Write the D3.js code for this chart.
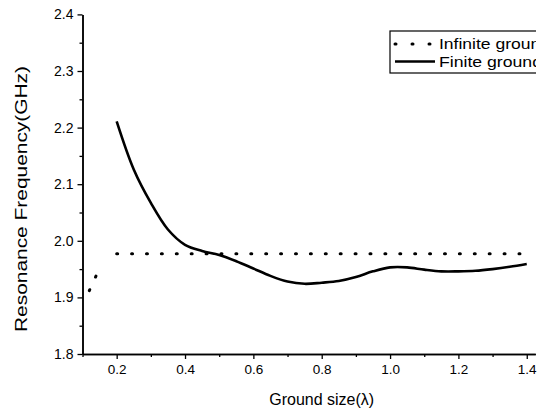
<!DOCTYPE html>
<html>
<head>
<meta charset="utf-8">
<script src="https://cdn.jsdelivr.net/npm/d3@7"></script>
<style>
  body { margin: 0; background: #fff; }
  text { font-family: "Liberation Sans", Arial, sans-serif; fill: #000; }
</style>
</head>
<body>
<script>
// finite ground curve
var finiteX = [0.2, 0.25, 0.3, 0.35, 0.4, 0.45, 0.5, 0.55, 0.6, 0.65, 0.7, 0.75, 0.8,
               0.85, 0.9, 0.95, 1.0, 1.05, 1.1, 1.15, 1.2, 1.25, 1.3, 1.35, 1.4];
var finiteY = [2.211, 2.126, 2.067, 2.020, 1.993, 1.982, 1.975, 1.964, 1.951, 1.938, 1.928, 1.924, 1.926,
               1.929, 1.936, 1.946, 1.953, 1.953, 1.949, 1.946, 1.946, 1.947, 1.950, 1.954, 1.959];

// infinite ground (null = gap)
var infiniteX = [0.12, 0.145, 0.17, 0.2, 0.4, 0.6, 0.8, 1.0, 1.2, 1.4];
var infiniteY = [1.912, 1.945, null, 1.977, 1.977, 1.977, 1.977, 1.977, 1.977, 1.977];

var xMajor = [0.2, 0.4, 0.6, 0.8, 1.0, 1.2, 1.4];
var xMinor = [0.1, 0.3, 0.5, 0.7, 0.9, 1.1, 1.3];
var yMajor = [1.8, 1.9, 2.0, 2.1, 2.2, 2.3, 2.4];
var yMinor = [1.85, 1.95, 2.05, 2.15, 2.25, 2.35];

var legendNames = ["Infinite ground", "Finite ground"];
var legendWidths = [111, 103];

var W = 549, H = 414;

var svg = d3.select("body").append("svg")
    .attr("width", W)
    .attr("height", H);

var x = d3.scaleLinear().domain([0.1, 1.425]).range([82.5, 535.3]);
var y = d3.scaleLinear().domain([1.8, 2.4]).range([354, 14.4]);

// axes
function styleAxis(g) {
  g.select(".domain").attr("stroke", "#000").attr("stroke-width", 1.5);
  g.selectAll(".tick line").attr("stroke", "#000").attr("stroke-width", 1.3);
  g.selectAll("text").style("font-family", "Liberation Sans, Arial, sans-serif").attr("fill", "#000");
}

svg.append("g")
    .attr("transform", "translate(0," + y(1.8) + ")")
    .call(d3.axisBottom(x).tickValues(xMinor).tickSize(3).tickFormat("").tickSizeOuter(0))
    .call(styleAxis);
svg.append("g")
    .attr("transform", "translate(0," + y(1.8) + ")")
    .call(d3.axisBottom(x).tickValues(xMajor).tickSize(5).tickPadding(5).tickSizeOuter(0)
          .tickFormat(d3.format(".1f")))
    .call(styleAxis)
    .selectAll("text").style("font-size", "13.5px");

svg.append("g")
    .attr("transform", "translate(" + x(0.1) + ",0)")
    .call(d3.axisLeft(y).tickValues(yMinor).tickSize(3).tickFormat("").tickSizeOuter(0))
    .call(styleAxis);
svg.append("g")
    .attr("transform", "translate(" + x(0.1) + ",0)")
    .call(d3.axisLeft(y).tickValues(yMajor).tickSize(5).tickPadding(4).tickSizeOuter(0)
          .tickFormat(d3.format(".1f")))
    .call(styleAxis)
    .selectAll("text").style("font-size", "14px");

// axis titles
svg.append("text")
    .attr("x", x(0.8))
    .attr("y", 405)
    .attr("text-anchor", "middle")
    .style("font-size", "16px")
    .text("Ground size(λ)");

svg.append("text")
    .attr("transform", "translate(27,199)rotate(-90)")
    .attr("text-anchor", "middle")
    .attr("textLength", 266)
    .attr("lengthAdjust", "spacingAndGlyphs")
    .style("font-size", "16px")
    .text("Resonance Frequency(GHz)");

// series
var finite = finiteX.map(function(d, i) { return [d, finiteY[i]]; });
var infinite = infiniteX.map(function(d, i) { return [d, infiniteY[i]]; });

var line = d3.line()
    .defined(function(d) { return d[1] !== null; })
    .x(function(d) { return x(d[0]); })
    .y(function(d) { return y(d[1]); });

svg.append("path")
    .datum(infinite)
    .attr("fill", "none")
    .attr("stroke", "#000")
    .attr("stroke-width", 3)
    .attr("stroke-linecap", "round")
    .attr("stroke-dasharray", "1,13.9")
    .attr("d", line);

svg.append("path")
    .datum(finite)
    .attr("fill", "none")
    .attr("stroke", "#000")
    .attr("stroke-width", 2.6)
    .attr("d", line.curve(d3.curveCatmullRom.alpha(0.5)));

// legend (cut off on the right like the original)
svg.append("clipPath").attr("id", "legclip")
  .append("rect").attr("x", 380).attr("y", 20).attr("width", 156).attr("height", 70);

var leg = svg.append("g").attr("clip-path", "url(#legclip)");
leg.append("rect")
    .attr("x", 390).attr("y", 31)
    .attr("width", 160).attr("height", 42)
    .attr("fill", "#fff")
    .attr("stroke", "#000")
    .attr("stroke-width", 1.2);

leg.append("line")
    .attr("x1", 395).attr("x2", 432).attr("y1", 44).attr("y2", 44)
    .attr("stroke", "#000")
    .attr("stroke-width", 3)
    .attr("stroke-linecap", "round")
    .attr("stroke-dasharray", "1,16");
leg.append("line")
    .attr("x1", 395).attr("x2", 435).attr("y1", 61.5).attr("y2", 61.5)
    .attr("stroke", "#000")
    .attr("stroke-width", 2.6);

leg.selectAll("text.lab")
    .data(legendNames)
    .enter()
    .append("text")
    .attr("class", "lab")
    .attr("x", 439)
    .attr("y", function(d, i) { return 48.6 + i * 18.2; })
    .attr("textLength", function(d, i) { return legendWidths[i]; })
    .attr("lengthAdjust", "spacingAndGlyphs")
    .style("font-size", "15.5px")
    .text(function(d) { return d; });
</script>
</body>
</html>
